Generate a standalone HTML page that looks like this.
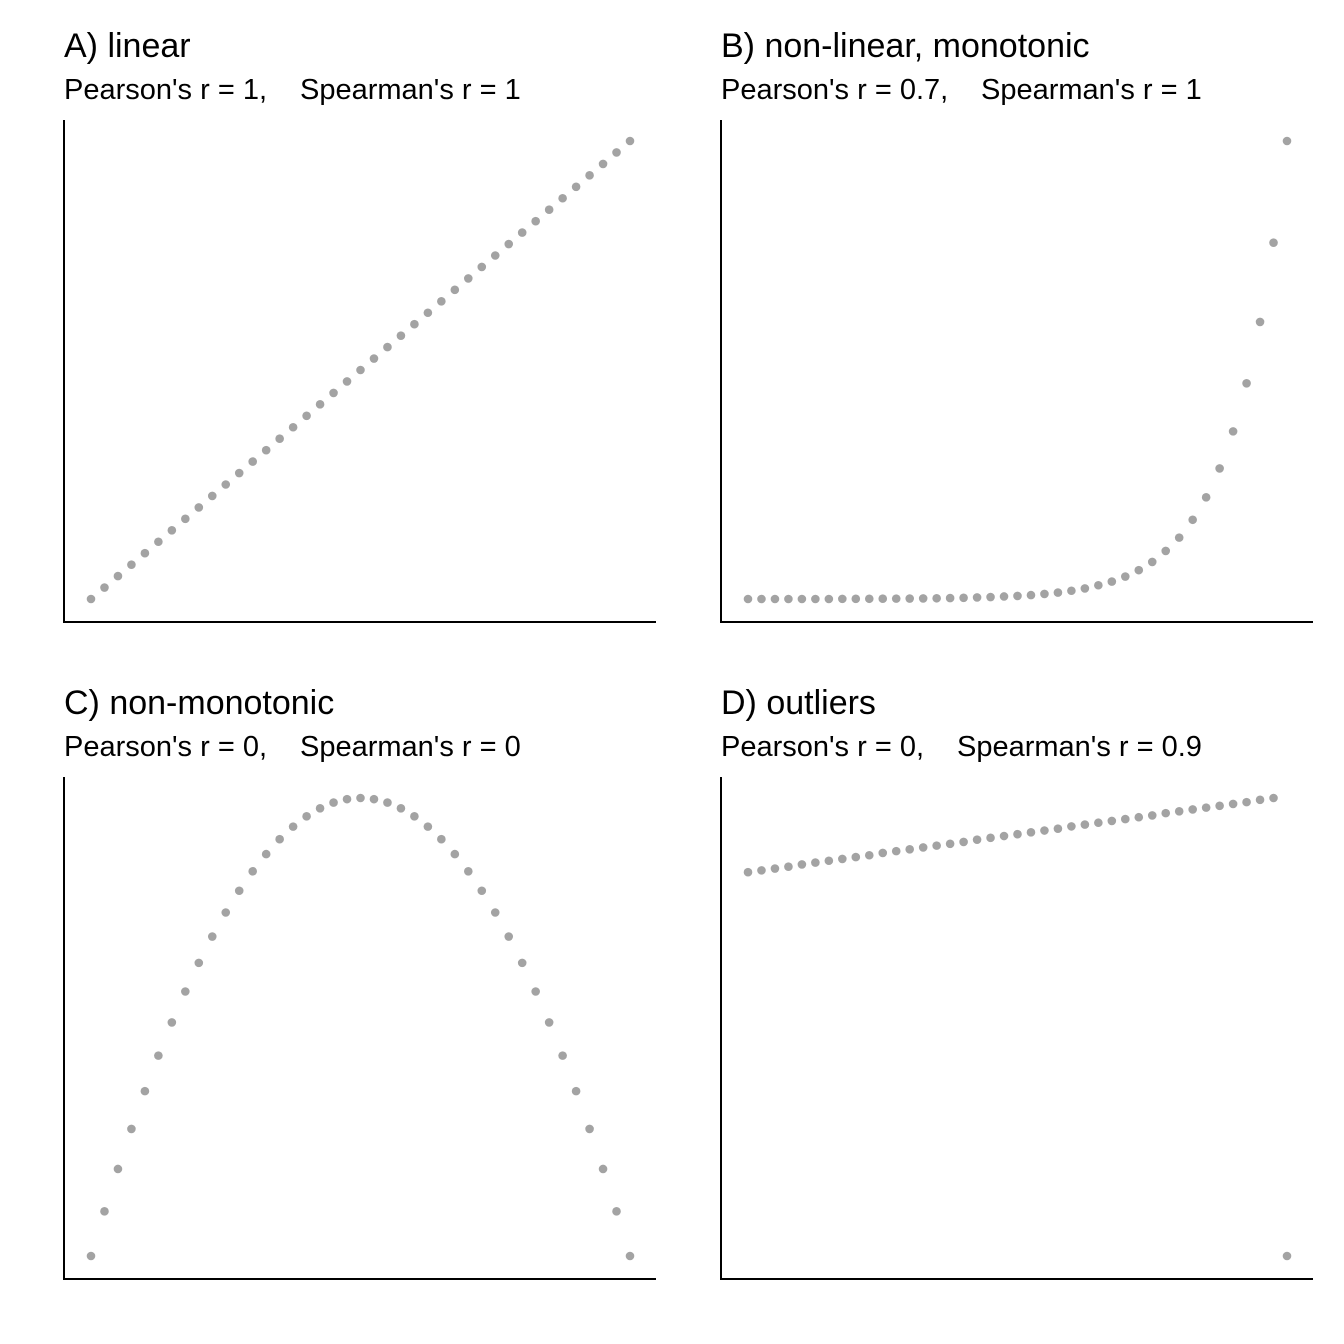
<!DOCTYPE html>
<html><head><meta charset="utf-8"><style>
html,body{margin:0;padding:0;background:#fff;}
svg{display:block;font-family:"Liberation Sans",Arial,sans-serif;}
</style></head><body>
<svg id="chart" width="1344" height="1344" viewBox="0 0 1344 1344"></svg>
<script>
const xIndex = [0,1,2,3,4,5,6,7,8,9,10,11,12,13,14,15,16,17,18,19,20,21,22,23,24,25,26,27,28,29,30,31,32,33,34,35,36,37,38,39,40];
const linearY = [0,0.025,0.05,0.075,0.1,0.125,0.15,0.175,0.2,0.225,0.25,0.275,0.3,0.325,0.35,0.375,0.4,0.425,0.45,0.475,0.5,0.525,0.55,0.575,0.6,0.625,0.65,0.675,0.7,0.725,0.75,0.775,0.8,0.825,0.85,0.875,0.9,0.925,0.95,0.975,1];
const expY = [0,0,0,0,0,0,0,0.0003,0.0004,0.0005,0.0006,0.0008,0.001,0.0013,0.0016,0.002,0.0026,0.0034,0.0043,0.0055,0.0066,0.0085,0.011,0.014,0.018,0.023,0.03,0.038,0.049,0.063,0.081,0.105,0.134,0.173,0.222,0.285,0.366,0.471,0.605,0.778,1];
const parabY = [0,0.0975,0.19,0.2775,0.36,0.4375,0.51,0.5775,0.64,0.6975,0.75,0.7975,0.84,0.8775,0.91,0.9375,0.96,0.9775,0.99,0.9975,1,0.9975,0.99,0.9775,0.96,0.9375,0.91,0.8775,0.84,0.7975,0.75,0.6975,0.64,0.5775,0.51,0.4375,0.36,0.2775,0.19,0.0975,0];
const outlierY = [0.838,0.842,0.846,0.850,0.855,0.859,0.863,0.867,0.871,0.875,0.880,0.884,0.888,0.892,0.896,0.900,0.904,0.909,0.913,0.917,0.921,0.925,0.929,0.933,0.938,0.942,0.946,0.950,0.954,0.958,0.962,0.967,0.971,0.975,0.979,0.983,0.987,0.991,0.996,1.0,0];
const panelTitles = ["A) linear","B) non-linear, monotonic","C) non-monotonic","D) outliers"];
const pearson = ["Pearson's r = 1,","Pearson's r = 0.7,","Pearson's r = 0,","Pearson's r = 0,"];
const spearman = ["Spearman's r = 1","Spearman's r = 1","Spearman's r = 0","Spearman's r = 0.9"];
const series = [linearY, expY, parabY, outlierY];
const spearOffset = [236,260,236,236];

const NS = "http://www.w3.org/2000/svg";
const svg = document.getElementById('chart');
function mk(tag, attrs, parent){
  const e = document.createElementNS(NS, tag);
  for (const k in attrs) e.setAttribute(k, attrs[k]);
  parent.appendChild(e); return e;
}
const origins = [[64,0],[721,0],[64,657],[721,657]];
origins.forEach((o, p) => {
  const ox = o[0], oy = o[1];
  const g = mk('g', {}, svg);
  
  
  const t = mk('text', {x: ox, y: oy+57, 'font-size': 34, fill: '#000'}, g);
  t.textContent = panelTitles[p];
  
  
  const s1 = mk('text', {x: ox, y: oy+99, 'font-size': 29, fill: '#000'}, g);
  s1.textContent = pearson[p];
  
  
  const s2 = mk('text', {x: ox + spearOffset[p], y: oy+99, 'font-size': 29, fill: '#000'}, g);
  s2.textContent = spearman[p];
  
  
  const ya = mk('line', {x1: ox, y1: oy+120, x2: ox, y2: oy+622, stroke: '#000', 'stroke-width': 2}, g);
  
  
  const xa = mk('line', {x1: ox-1, y1: oy+622, x2: ox+592, y2: oy+622, stroke: '#000', 'stroke-width': 2}, g);
  
  
  const xs = i => ox + 27 + i * (539/40);
  const ys = v => oy + 599 - v * 458;
  series[p].forEach((v, i) => {
    const c = mk('circle', {cx: xs(xIndex[i]), cy: ys(v), r: 4.3, fill: '#a3a3a3'}, g);
    
    
  });
});
</script>
</body></html>
